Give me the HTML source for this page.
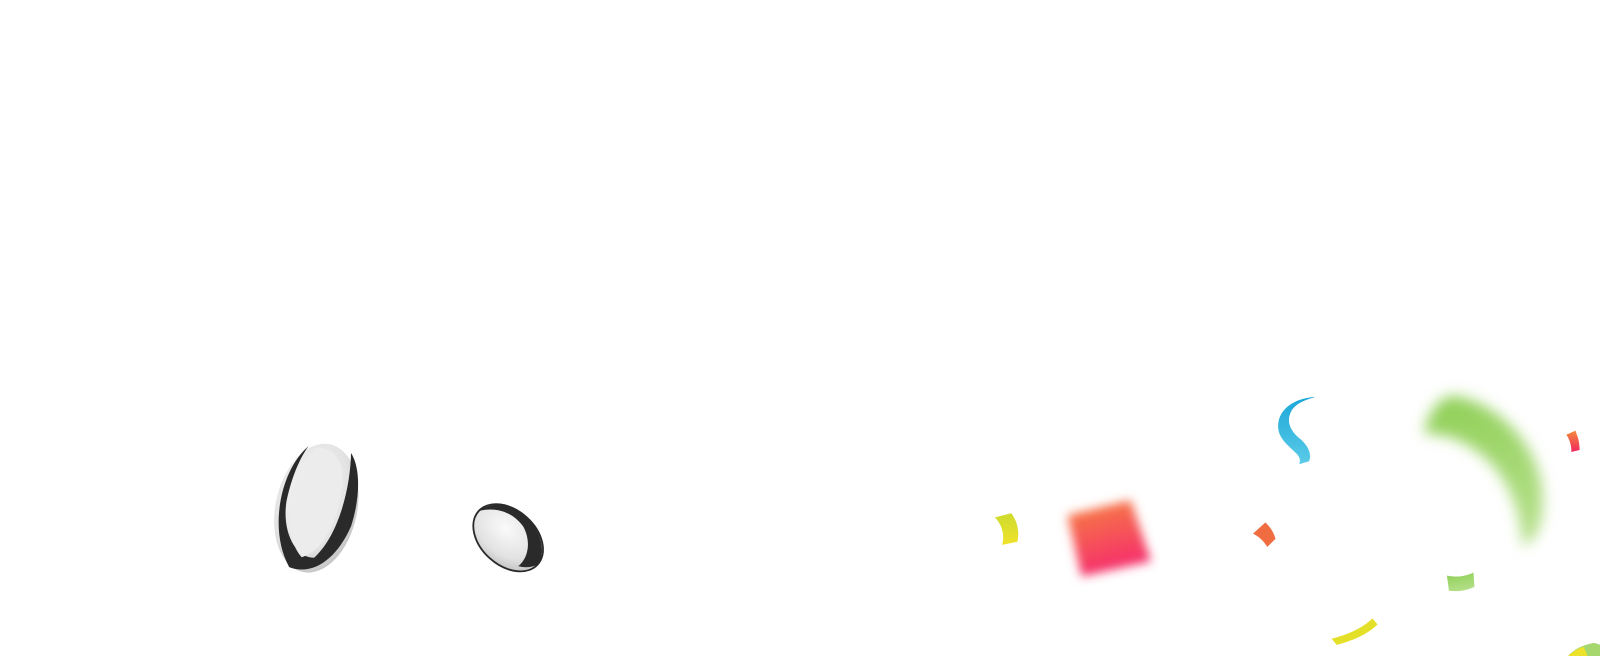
<!DOCTYPE html>
<html><head><meta charset="utf-8"><style>
html,body{margin:0;padding:0;background:#fff;width:1600px;height:656px;overflow:hidden}
</style></head><body>
<svg width="1600" height="656" viewBox="0 0 1600 656" xmlns="http://www.w3.org/2000/svg">
<defs>
<radialGradient id="ball" cx="40%" cy="40%" r="65%">
<stop offset="0" stop-color="#fafafa"/><stop offset="0.7" stop-color="#e2e2e2"/><stop offset="1" stop-color="#c4c4c4"/></radialGradient>
<linearGradient id="pk" x1="0" y1="0" x2="0.3" y2="1"><stop offset="0" stop-color="#f7843f"/><stop offset="1" stop-color="#f52d6c"/></linearGradient>
<linearGradient id="pk2" x1="0" y1="0" x2="0" y2="1"><stop offset="0" stop-color="#f48a3a"/><stop offset="1" stop-color="#f0285f"/></linearGradient>
<linearGradient id="gr" x1="0" y1="0" x2="0.3" y2="1"><stop offset="0" stop-color="#8ecf55"/><stop offset="1" stop-color="#b2de86"/></linearGradient>
<linearGradient id="bl" x1="0" y1="0" x2="0" y2="1"><stop offset="0" stop-color="#1aa7d8"/><stop offset="1" stop-color="#5ccbe8"/></linearGradient>
<linearGradient id="yl" x1="0" y1="0" x2="0" y2="1"><stop offset="0" stop-color="#cddb2e"/><stop offset="1" stop-color="#f0e22a"/></linearGradient>
<filter id="b1" x="-50%" y="-50%" width="200%" height="200%"><feGaussianBlur stdDeviation="5"/></filter>
<filter id="b2" x="-50%" y="-50%" width="200%" height="200%"><feGaussianBlur stdDeviation="7"/></filter>
</defs>
<g transform="scale(1.0204)">
<!-- big ball -->
<g transform="translate(310,498) rotate(12)">
<ellipse rx="40" ry="64" fill="url(#ball)"/>
<path d="M -20 -58 C -42 -30 -42 30 -14 62 C 10 66 30 45 37 10 C 40 -20 34 -48 22 -60 C 28 -30 28 20 8 48 C -10 52 -28 30 -30 0 C -30 -25 -26 -45 -20 -58 Z" fill="#2a2a2a"/>
<path d="M -12 -58 C -32 -35 -32 30 -4 50 C 18 38 24 0 20 -30 C 16 -50 6 -62 -12 -58 Z" fill="#ececec"/>
</g>
<!-- small ball -->
<g transform="translate(498,527) rotate(42)">
<ellipse rx="39" ry="27" fill="url(#ball)"/>
<path d="M -39 0 C -36 -18 -18 -28 2 -27 C 24 -25 38 -12 39 0 C 36 8 30 12 26 14 C 28 2 20 -12 4 -18 C -14 -22 -30 -14 -39 0 Z" fill="#2a2a2a"/>
<ellipse rx="39" ry="27" fill="none" stroke="#2a2a2a" stroke-width="1.8"/>
</g>
<!-- yellow -->
<path d="M975 507 L991 503 C998 512 999 523 997 531 L982 534 C985 525 982 514 975 507 Z" fill="url(#yl)"/>
<!-- blurred pink -->
<path d="M1046 505 L1108 490 L1128 550 L1060 565 Z" fill="url(#pk)" filter="url(#b1)"/>
<!-- orange small -->
<path d="M1228 523 L1240 512 C1246 517 1249 524 1250 528 L1242 536 C1238 530 1234 526 1228 523 Z" fill="#f06d42"/>
<!-- blue ribbon -->
<path d="M1289 389 C1272 390 1256 398 1253 413 C1250 428 1262 436 1270 444 C1274 448 1275 452 1273 455 L1283 452 C1286 444 1281 436 1274 430 C1264 422 1260 412 1266 402 C1272 394 1280 392 1289 389 Z" fill="url(#bl)"/>
<!-- big green blurred -->
<path d="M1425 388 C1470 395 1512 440 1512 490 C1512 515 1505 530 1492 535 C1490 490 1470 450 1430 432 C1415 425 1400 425 1395 425 C1400 405 1410 388 1425 388 Z" fill="url(#gr)" filter="url(#b2)"/>
<!-- small pink right -->
<path d="M1535 426 L1544 422 C1546 428 1548 432 1548 441 L1540 443 C1540 436 1538 430 1535 426 Z" fill="url(#pk2)"/>
<!-- green small -->
<path d="M1418 564 C1427 566 1436 565 1444 561 L1445 575 C1437 579 1428 580 1420 579 Z" fill="url(#gr)"/>
<!-- yellow bottom -->
<path d="M1305 626 C1320 622 1335 616 1345 606 L1350 612 C1340 622 1325 628 1310 632 Z" fill="#e4df28"/>
<!-- bottom right -->
<path d="M1533 648 C1540 636 1552 632 1562 630 C1572 632 1585 640 1590 656 L1533 656 Z" fill="#a6d66e"/>
<path d="M1533 648 C1538 640 1545 636 1552 634 C1556 642 1558 650 1558 656 L1533 656 Z" fill="#ece12b"/>
<path d="M1594 632 C1598 630 1600 630 1600 630 L1600 656 L1596 656 C1596 648 1594 640 1594 632 Z" fill="#ece12b"/>
</g>
</svg>
</body></html>
